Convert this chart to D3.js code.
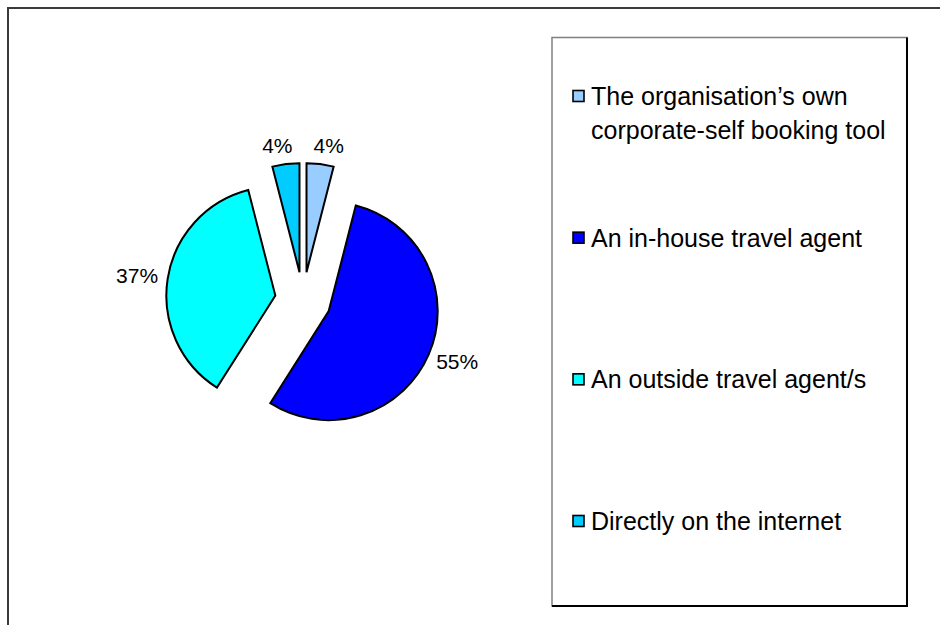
<!DOCTYPE html>
<html>
<head>
<meta charset="utf-8">
<script src="https://cdnjs.cloudflare.com/ajax/libs/d3/7.8.5/d3.min.js"></script>
<style>
  html, body { margin: 0; padding: 0; background: #fff; }
  svg { display: block; font-family: "Liberation Sans", Arial, Helvetica, sans-serif; }
</style>
</head>
<body>
<svg id="chart" width="940" height="625"></svg>
<script>
// Booking channels used by the organisation (share of respondents, %)
const categories = [
  "The organisation\u2019s own corporate-self booking tool",
  "An in-house travel agent",
  "An outside travel agent/s",
  "Directly on the internet"
];
const legendLines = [
  ["The organisation\u2019s own", "corporate-self booking tool"],
  ["An in-house travel agent"],
  ["An outside travel agent/s"],
  ["Directly on the internet"]
];
const values = [4, 55, 37, 4];
const colors = ["#99CCFF", "#0000FF", "#00FFFF", "#00CCFF"];

const svg = d3.select("#chart");

// outer chart frame (open to the right and bottom)
svg.append("rect")
  .attr("x", 8).attr("y", 8)
  .attr("width", 1000).attr("height", 1000)
  .attr("fill", "none")
  .attr("stroke", "#3a3a3a")
  .attr("stroke-width", 2);

// ---- exploded pie ----
const cx = 303, cy = 300, radius = 109, explode = 28;
const pie = d3.pie().sort(null).value(d => d)(values);
const arc = d3.arc().innerRadius(0).outerRadius(radius);

const g = svg.append("g").attr("transform", `translate(${cx},${cy})`);

function unit(a) { return [Math.sin(a), -Math.cos(a)]; }

g.selectAll("path.slice")
  .data(pie)
  .join("path")
  .attr("class", "slice")
  .attr("transform", d => {
    const [ux, uy] = unit((d.startAngle + d.endAngle) / 2);
    return `translate(${ux * explode},${uy * explode})`;
  })
  .attr("d", arc)
  .attr("fill", (d, i) => colors[i])
  .attr("stroke", "#000")
  .attr("stroke-width", 2)
  .attr("stroke-linejoin", "miter");

// percentage labels placed just outside each exploded slice
const labelFont = 21, labelGap = 10;
const labels = pie.map((d, i) => {
  const a = (d.startAngle + d.endAngle) / 2;
  const [ux, uy] = unit(a);
  const text = d.data + "%";
  const w = labelFont * (text.length === 2 ? 1.445 : 2.0), h = 17;
  const rr = radius + explode + labelGap;
  return { text, x: ux * rr + ux * w / 2, y: uy * rr + uy * h / 2, w, h };
});
// keep neighbouring labels from crowding each other
for (let i = 0; i < labels.length; i++) {
  const a = labels[i], b = labels[(i + 1) % labels.length];
  if (Math.abs(a.y - b.y) < a.h) {
    const left = a.x < b.x ? a : b, right = a.x < b.x ? b : a;
    const gap = (right.x - right.w / 2) - (left.x + left.w / 2);
    const minGap = 21;
    if (gap < minGap) {
      const push = (minGap - gap) / 2;
      left.x -= push; right.x += push;
    }
  }
}
g.selectAll("text.pct")
  .data(labels)
  .join("text")
  .attr("class", "pct")
  .attr("x", d => d.x)
  .attr("y", d => d.y)
  .attr("text-anchor", "middle")
  .attr("dominant-baseline", "central")
  .attr("font-size", labelFont)
  .attr("fill", "#000")
  .text(d => d.text);

// ---- legend ----
const lg = svg.append("g");
const lx0 = 552, ly0 = 37.5, lx1 = 907, ly1 = 606;
lg.append("rect")
  .attr("x", lx0).attr("y", ly0)
  .attr("width", lx1 - lx0).attr("height", ly1 - ly0)
  .attr("fill", "#fff")
  .attr("stroke", "#808080")
  .attr("stroke-width", 1.5);
lg.append("path")
  .attr("d", `M${lx1},${ly0}V${ly1}H${lx0}`)
  .attr("fill", "none")
  .attr("stroke", "#000")
  .attr("stroke-width", 2);

const legendY = d3.scalePoint().domain(d3.range(categories.length)).range([96, 521]);
const legendFont = 25, lineH = 34;
const items = lg.selectAll("g.item")
  .data(categories)
  .join("g")
  .attr("class", "item")
  .attr("transform", (d, i) => `translate(0,${legendY(i)})`);
items.append("rect")
  .attr("x", 573).attr("y", -5.5)
  .attr("width", 11).attr("height", 11)
  .attr("fill", (d, i) => colors[i])
  .attr("stroke", "#000")
  .attr("stroke-width", 1.6);
items.append("text")
  .attr("font-size", legendFont)
  .attr("fill", "#000")
  .selectAll("tspan")
  .data((d, i) => legendLines[i])
  .join("tspan")
  .attr("x", 591)
  .attr("y", (d, j) => j * lineH)
  .attr("dominant-baseline", "central")
  .text(d => d);
</script>
</body>
</html>
